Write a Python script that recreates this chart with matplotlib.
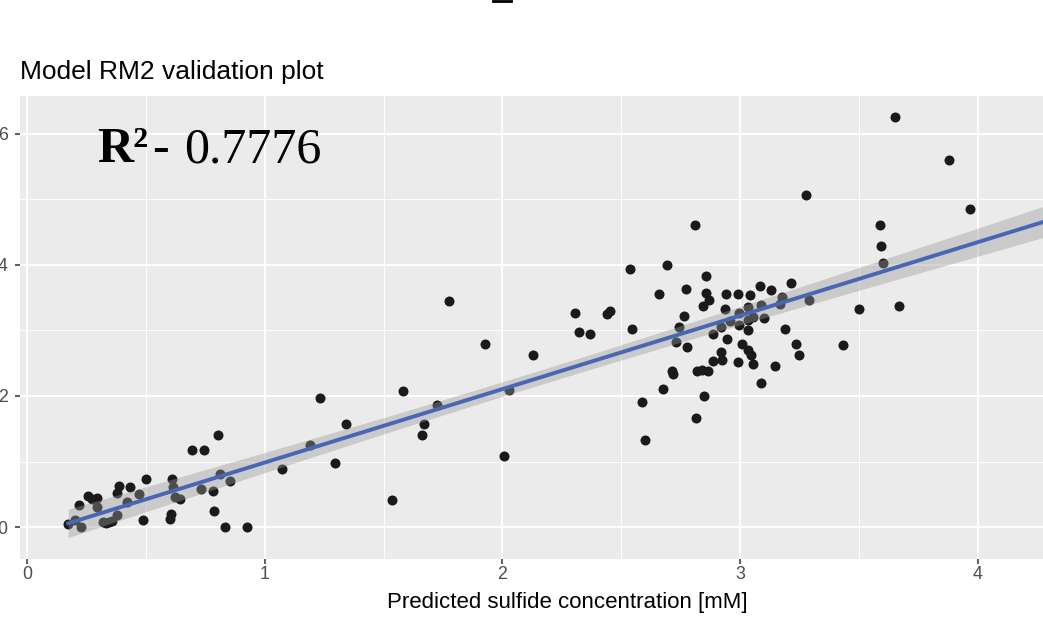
import numpy as np
import matplotlib
matplotlib.use("Agg")
import matplotlib.pyplot as plt
from matplotlib.lines import Line2D

predicted = np.array([
    0.174, 0.202, 0.227, 0.219, 0.255, 0.272, 0.294, 0.294, 0.318, 0.332,
    0.345, 0.356, 0.377, 0.381, 0.388, 0.419, 0.434, 0.471, 0.500, 0.487,
    0.600, 0.606, 0.609, 0.615, 0.622, 0.643, 0.694, 0.743, 0.803, 0.732,
    0.781, 0.788, 0.812, 0.854, 0.833, 0.924,
    1.071, 1.190, 1.234, 1.294, 1.342, 1.534, 1.583, 1.671, 1.661, 1.723,
    1.775, 1.926, 2.006, 2.029, 2.130, 2.305, 2.323, 2.368, 2.441, 2.452,
    2.543,
    3.275, 2.811, 2.535, 2.690, 2.855, 2.657, 2.772, 2.856, 2.869, 2.845,
    2.940, 2.990, 3.040, 3.084, 3.129, 3.212, 3.174, 3.167, 3.289, 2.763,
    2.744, 2.728, 2.777, 2.937, 2.993, 3.034, 3.086, 2.957, 2.919, 2.996,
    3.034, 3.055, 3.099, 3.034, 2.887, 2.943, 3.190, 3.009, 3.034, 3.045,
    3.052, 3.234, 3.247, 3.146, 2.990, 2.923, 2.884, 2.918, 2.817, 2.839,
    2.866, 2.712, 2.719, 2.674, 2.849, 3.086, 2.588, 2.813, 2.601,
    3.650, 3.878, 3.965, 3.589, 3.591, 3.602, 3.498, 3.668, 3.434,
])
measured = np.array([
    0.046, 0.107, 0.000, 0.340, 0.473, 0.423, 0.447, 0.301, 0.081, 0.056,
    0.075, 0.096, 0.183, 0.524, 0.626, 0.377, 0.606, 0.499, 0.737, 0.107,
    0.118, 0.198, 0.728, 0.615, 0.463, 0.423, 1.171, 1.180, 1.405, 0.585,
    0.554, 0.244, 0.809, 0.707, 0.000, 0.000,
    0.890, 1.257, 1.974, 0.972, 1.573, 0.412, 2.081, 1.568, 1.409, 1.863,
    3.455, 2.794, 1.084, 2.092, 2.621, 3.267, 2.972, 2.942, 3.247, 3.302,
    3.023,
    5.069, 4.611, 3.944, 4.005, 3.827, 3.557, 3.629, 3.567, 3.466, 3.374,
    3.557, 3.553, 3.542, 3.675, 3.614, 3.725, 3.516, 3.405, 3.466, 3.226,
    3.058, 2.824, 2.753, 3.323, 3.272, 3.354, 3.389, 3.150, 3.058, 3.084,
    3.160, 3.211, 3.196, 3.008, 2.947, 2.875, 3.023, 2.798, 2.702, 2.626,
    2.483, 2.789, 2.631, 2.463, 2.524, 2.550, 2.530, 2.677, 2.377, 2.397,
    2.382, 2.387, 2.331, 2.112, 2.000, 2.194, 1.913, 1.669, 1.324,
    6.264, 5.598, 4.860, 4.616, 4.285, 4.035, 3.323, 3.374, 2.779,
])

title = "Model RM2 validation plot"
x_label = "Predicted sulfide concentration [mM]"
r2_value = "0.7776"
x_ticks = [0, 1, 2, 3, 4]
y_ticks = [0, 2, 4, 6]
fit_x_max = 4.36   # the smooth runs on past the crop edge

W, H = 1043, 636
fig = plt.figure(figsize=(W / 100, H / 100), dpi=100)
# panel is wider than the (cropped) image
ax = fig.add_axes([20 / W, 1 - 559 / H, 1094 / W, 463 / H])
ax.set_facecolor("#EBEBEB")
for s in ax.spines.values():
    s.set_visible(False)

ax.set_xlim(-0.029, 4.572)
ax.set_ylim(-0.4885, 6.58)
ax.set_xticks(x_ticks)
ax.set_yticks(y_ticks)
ax.set_xticks(np.arange(0.5, 4.6, 1), minor=True)
ax.set_yticks([1, 3, 5], minor=True)
ax.grid(which="major", color="white", lw=1.3)
ax.grid(which="minor", color="white", lw=0.65)
ax.set_axisbelow(True)
ax.tick_params(which="major", length=3.4, width=1.1, color="#333333",
               labelcolor="#4D4D4D", labelsize=12.8)
ax.tick_params(axis="x", pad=1.4)
ax.tick_params(axis="y", pad=5.5)
ax.tick_params(which="minor", length=0)
for lab in ax.get_xticklabels() + ax.get_yticklabels():
    lab.set_family("Liberation Sans")

ax.scatter(predicted, measured, s=52, color="#1a1a1a", linewidths=0, zorder=2)

# lm fit with 95% band, as geom_smooth does
slope, intercept = np.polyfit(predicted, measured, 1)
n = len(predicted)
resid = measured - (slope * predicted + intercept)
s_err = np.sqrt(np.sum(resid ** 2) / (n - 2))
xbar = predicted.mean()
sxx = np.sum((predicted - xbar) ** 2)
xs = np.linspace(predicted.min(), fit_x_max, 200)
ys = slope * xs + intercept
half = 1.98 * s_err * np.sqrt(1 / n + (xs - xbar) ** 2 / sxx)
ax.fill_between(xs, ys - half, ys + half, color="#999999", alpha=0.4,
                lw=0, zorder=3)
ax.plot(xs, ys, color="#4866B4", lw=2.8, zorder=4)

fig.text(20 / W, 1 - 79 / H, title, family="Liberation Sans", fontsize=19,
         color="black", va="baseline", ha="left")
fig.text((20 + 1114) / 2 / W, 1 - 608 / H, x_label, family="Liberation Sans",
         fontsize=16, color="black", va="baseline", ha="center")

# R² label: bold "R²", bold dash, then the value in regular weight
t1 = ax.text(97 / W, 1 - 162 / H, "R²", transform=fig.transFigure,
             family="Liberation Serif", fontweight="bold", fontsize=36,
             va="baseline", ha="left", zorder=6)
t2 = ax.annotate("-", xy=(1, 0), xycoords=t1, xytext=(3, 0),
                 textcoords="offset points", va="bottom", ha="left",
                 family="Liberation Serif", fontweight="bold", fontsize=36,
                 zorder=6)
ax.annotate(r2_value, xy=(1, 0), xycoords=t2, xytext=(11, 0),
            textcoords="offset points", va="bottom", ha="left",
            family="Liberation Serif", fontsize=36, zorder=6)

# stray mark at the top edge of the source image
fig.add_artist(Line2D([493 / W, 511 / W], [1 - 1 / H, 1 - 1 / H],
                      color="black", lw=2))

fig.savefig("out.png", dpi=100)
